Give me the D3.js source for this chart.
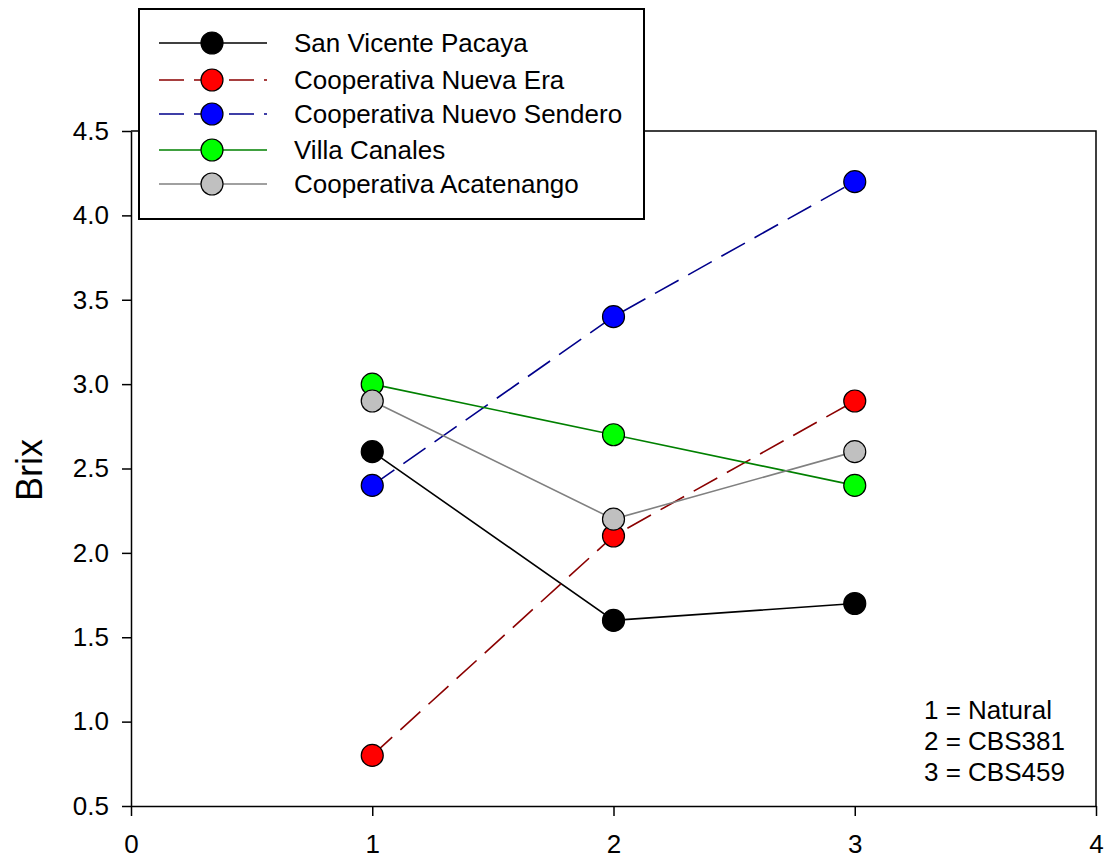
<!DOCTYPE html>
<html>
<head>
<meta charset="utf-8">
<script src="https://cdn.jsdelivr.net/npm/d3@7"></script>
<style>
  html, body { margin: 0; padding: 0; background: #fff; }
  svg { display: block; font-family: Arial, "Liberation Sans", sans-serif; }
</style>
</head>
<body>
<svg id="chart" width="1110" height="861"></svg>
<script>
// Treatments along the x axis (1 = Natural, 2 = CBS381, 3 = CBS459)
const treatments = [1, 2, 3];
const treatmentNotes = ["1 = Natural", "2 = CBS381", "3 = CBS459"];

// Brix readings per site
const sanVicentePacaya = [2.6, 1.6, 1.7];
const coopNuevaEra = [0.8, 2.1, 2.9];
const coopNuevoSendero = [2.4, 3.4, 4.2];
const villaCanales = [3.0, 2.7, 2.4];
const coopAcatenango = [2.9, 2.2, 2.6];

const seriesNames = [
  "San Vicente Pacaya",
  "Cooperativa Nueva Era",
  "Cooperativa Nuevo Sendero",
  "Villa Canales",
  "Cooperativa Acatenango"
];

const xTicks = [0, 1, 2, 3, 4];
const yTicks = [0.5, 1.0, 1.5, 2.0, 2.5, 3.0, 3.5, 4.0, 4.5];

const series = [
  { name: seriesNames[0], values: sanVicentePacaya, line: "#000000", fill: "#000000", dash: null },
  { name: seriesNames[1], values: coopNuevaEra, line: "#8b0000", fill: "#ff0000", dash: "27,11" },
  { name: seriesNames[2], values: coopNuevoSendero, line: "#00008b", fill: "#0000ff", dash: "27,11" },
  { name: seriesNames[3], values: villaCanales, line: "#008000", fill: "#00ff00", dash: null },
  { name: seriesNames[4], values: coopAcatenango, line: "#808080", fill: "#c0c0c0", dash: null }
];

const svg = d3.select("#chart");
const plot = { left: 131, right: 1096, top: 131, bottom: 806 };

const x = d3.scaleLinear().domain([0, 4]).range([plot.left, plot.right]);
const y = d3.scaleLinear().domain([0.5, 4.5]).range([plot.bottom, plot.top]);

// Frame: top and right edges
svg.append("path")
  .attr("d", `M${plot.left},${plot.top}H${plot.right}V${plot.bottom}`)
  .attr("fill", "none").attr("stroke", "#000").attr("stroke-width", 1.5);

// Axes
const xAxis = d3.axisBottom(x).tickValues(xTicks).tickFormat(d3.format("d"))
  .tickSize(10).tickSizeOuter(0).tickPadding(19);
const yAxis = d3.axisLeft(y).tickValues(yTicks).tickFormat(d3.format(".1f"))
  .tickSize(9).tickSizeOuter(0).tickPadding(13);

const gx = svg.append("g").attr("transform", `translate(0,${plot.bottom})`).call(xAxis);
const gy = svg.append("g").attr("transform", `translate(${plot.left},0)`).call(yAxis);

[gx, gy].forEach(g => {
  g.select(".domain").attr("stroke", "#000").attr("stroke-width", 1.5);
  g.selectAll(".tick line").attr("stroke", "#000").attr("stroke-width", 1.5);
  g.selectAll(".tick text").attr("fill", "#000").style("font-size", "26px")
    .style("font-family", "Arial, 'Liberation Sans', sans-serif");
});

// Y axis title
svg.append("text")
  .attr("transform", `translate(42,470) rotate(-90)`)
  .attr("text-anchor", "middle")
  .style("font-size", "36px")
  .text("Brix");

// Lines and markers
const line = d3.line().x((d, i) => x(treatments[i])).y(d => y(d));

series.forEach(s => {
  svg.append("path")
    .datum(s.values)
    .attr("d", line)
    .attr("fill", "none")
    .attr("stroke", s.line)
    .attr("stroke-width", 1.6)
    .attr("stroke-dasharray", s.dash);
});

series.forEach(s => {
  svg.append("g").selectAll("circle")
    .data(s.values)
    .join("circle")
    .attr("cx", (d, i) => x(treatments[i]))
    .attr("cy", d => y(d))
    .attr("r", 11)
    .attr("fill", s.fill)
    .attr("stroke", "#000")
    .attr("stroke-width", 1.2);
});

// Treatment key
svg.append("g").selectAll("text")
  .data(treatmentNotes)
  .join("text")
  .attr("x", 924)
  .attr("y", (d, i) => 719 + i * 31)
  .style("font-size", "26px")
  .text(d => d);

// Legend
const legend = svg.append("g");
legend.append("rect")
  .attr("x", 139).attr("y", 9).attr("width", 505).attr("height", 210)
  .attr("fill", "#fff").attr("stroke", "#000").attr("stroke-width", 2);

const rowY = [43, 80, 114, 150, 184];
const rows = legend.selectAll("g.row").data(series).join("g")
  .attr("class", "row")
  .attr("transform", (d, i) => `translate(0,${rowY[i]})`);

rows.append("line")
  .attr("x1", 159).attr("x2", 267).attr("y1", 0).attr("y2", 0)
  .attr("stroke", d => d.line).attr("stroke-width", 1.6)
  .attr("stroke-dasharray", d => d.dash ? "25,10" : null);
rows.append("circle")
  .attr("cx", 212).attr("cy", 0).attr("r", 11)
  .attr("fill", d => d.fill).attr("stroke", "#000").attr("stroke-width", 1.2);
rows.append("text")
  .attr("x", 294).attr("y", 9)
  .style("font-size", "26px")
  .text(d => d.name);
</script>
</body>
</html>
